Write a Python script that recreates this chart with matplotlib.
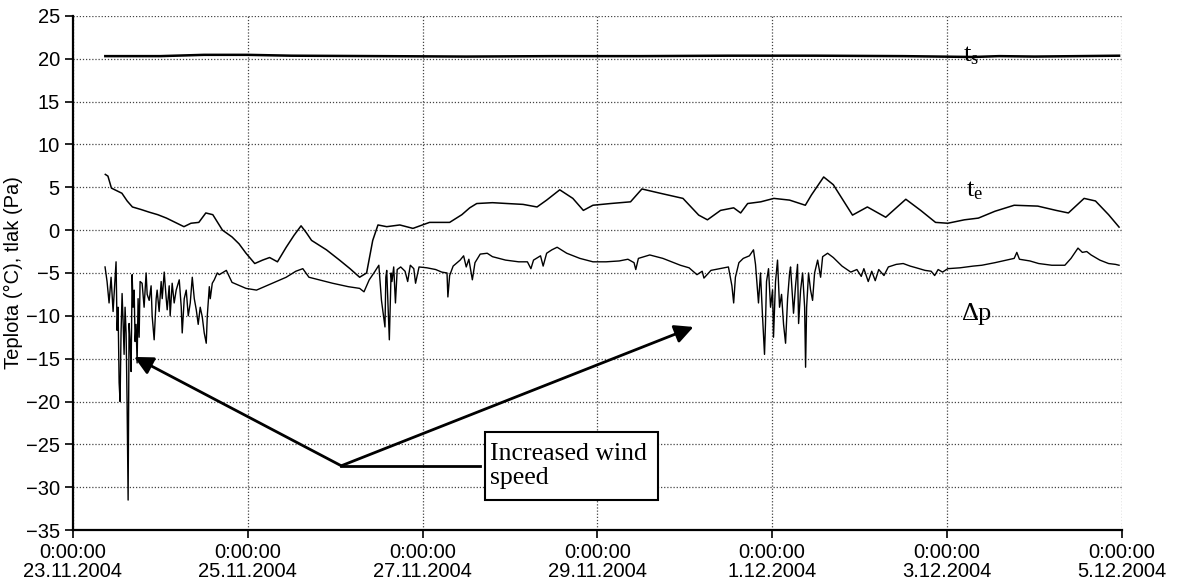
import matplotlib
matplotlib.use("Agg")
import matplotlib.pyplot as plt
from matplotlib.patches import Rectangle

# cas ve dnech od 23.11.2004 0:00:00
tick_dny = [0, 2, 4, 6, 8, 10, 12]
tick_popisky = ["0:00:00\n23.11.2004", "0:00:00\n25.11.2004", "0:00:00\n27.11.2004",
                "0:00:00\n29.11.2004", "0:00:00\n1.12.2004", "0:00:00\n3.12.2004",
                "0:00:00\n5.12.2004"]

# t_s - vnitrni teplota
ts_den = [0.37, 1.0, 1.5, 2.0, 2.5, 3.5, 4.5, 5.5, 6.5, 7.5, 8.5, 9.5, 10.3, 10.6, 11.0, 11.5, 11.97]
ts_hod = [20.3, 20.3, 20.45, 20.45, 20.35, 20.3, 20.25, 20.3, 20.3, 20.35, 20.35, 20.3, 20.2, 20.3,
          20.25, 20.3, 20.35]

# t_e - venkovni teplota
te_den = [0.37, 0.40, 0.44, 0.50, 0.56, 0.62, 0.68, 0.78, 0.87, 0.97, 1.07, 1.17, 1.27, 1.35, 1.44,
          1.52, 1.60, 1.71, 1.82, 1.90, 1.98, 2.08, 2.17, 2.25, 2.34, 2.44, 2.53, 2.61, 2.67, 2.73,
          2.90, 3.05, 3.17, 3.28, 3.36, 3.43, 3.49, 3.59, 3.74, 3.89, 4.08, 4.31, 4.45, 4.54, 4.62,
          4.80, 4.97, 5.15, 5.31, 5.42, 5.57, 5.72, 5.84, 5.95, 6.15, 6.38, 6.51, 6.72, 6.98, 7.16,
          7.26, 7.41, 7.56, 7.64, 7.72, 7.87, 8.02, 8.20, 8.38, 8.45, 8.59, 8.70, 8.92, 9.09, 9.30,
          9.53, 9.70, 9.87, 10.01, 10.20, 10.36, 10.55, 10.77, 11.04, 11.25, 11.39, 11.57, 11.70,
          11.85, 11.97]
te_hod = [6.5, 6.3, 4.9, 4.6, 4.3, 3.4, 2.7, 2.4, 2.1, 1.8, 1.4, 0.9, 0.4, 0.8, 0.9,
          2.0, 1.8, 0.0, -0.8, -1.6, -2.7, -3.9, -3.5, -3.2, -3.7, -2.0, -0.6, 0.5, -0.3, -1.2,
          -2.3, -3.5, -4.5, -5.5, -5.0, -1.2, 0.6, 0.4, 0.6, 0.2, 0.9, 0.9, 1.8, 2.6, 3.1,
          3.2, 3.1, 3.0, 2.7, 3.5, 4.7, 3.7, 2.3, 2.9, 3.1, 3.3, 4.8, 4.3, 3.7, 1.75,
          1.2, 2.3, 2.6, 2.0, 3.1, 3.3, 3.7, 3.5, 2.9, 4.1, 6.2, 5.3, 1.75, 2.7, 1.5,
          3.6, 2.3, 0.9, 0.8, 1.2, 1.4, 2.2, 2.9, 2.8, 2.3, 2.0, 3.7, 3.4,
          1.8, 0.35]

# dp - tlakovy rozdil
dp_den = [0.367, 0.390, 0.413, 0.436, 0.459, 0.493, 0.505, 0.516, 0.528, 0.539, 0.550, 0.562,
          0.573, 0.585, 0.596, 0.608, 0.619, 0.631, 0.642, 0.654, 0.665, 0.677, 0.688, 0.700,
          0.711, 0.722, 0.734, 0.745, 0.757, 0.768, 0.791, 0.814, 0.837, 0.849, 0.872, 0.894,
          0.906, 0.929, 0.952, 0.963, 0.986, 1.009, 1.021, 1.044, 1.067, 1.078, 1.101, 1.112,
          1.135, 1.158, 1.181, 1.216, 1.239, 1.250, 1.273, 1.296, 1.319, 1.342, 1.365, 1.388,
          1.411, 1.433, 1.456, 1.479, 1.502, 1.525, 1.537, 1.560, 1.571, 1.594, 1.617, 1.651,
          1.674, 1.755,
          1.82, 1.98, 2.10, 2.28, 2.44, 2.55, 2.63, 2.70, 2.97, 3.15, 3.28, 3.33, 3.39, 3.45,
          3.50, 3.53, 3.57, 3.58, 3.59, 3.62, 3.64, 3.65, 3.67, 3.69, 3.71, 3.75, 3.80, 3.83,
          3.86, 3.90, 3.92, 3.96, 4.05, 4.15, 4.22, 4.28, 4.29, 4.31, 4.35, 4.43, 4.47, 4.50,
          4.53, 4.57, 4.60, 4.66, 4.74, 4.80, 4.95, 5.10, 5.20, 5.24, 5.27, 5.35, 5.38, 5.42,
          5.48, 5.54, 5.65, 5.80, 5.95, 6.10, 6.25, 6.35, 6.42, 6.44, 6.47, 6.60, 6.75, 6.95,
          7.05, 7.14, 7.20, 7.22, 7.30, 7.40, 7.50, 7.54, 7.56, 7.58, 7.62, 7.67, 7.74,
          7.787, 7.810, 7.844, 7.867, 7.890, 7.913, 7.924, 7.936, 7.959, 7.982, 8.005, 8.016,
          8.039, 8.062, 8.085, 8.108, 8.131, 8.154, 8.177, 8.200, 8.211, 8.234, 8.245, 8.268,
          8.291, 8.303, 8.326, 8.349, 8.372, 8.383, 8.395, 8.417, 8.440, 8.463, 8.486, 8.521,
          8.555, 8.578, 8.635,
          8.70, 8.80, 8.90, 8.97, 9.02, 9.05, 9.10, 9.14, 9.18, 9.22, 9.28, 9.33, 9.42, 9.50,
          9.58, 9.65, 9.75, 9.82, 9.86, 9.90, 9.95, 10.01, 10.15, 10.30, 10.40, 10.55, 10.68,
          10.77, 10.80, 10.83, 10.95, 11.05, 11.20, 11.35, 11.42, 11.50, 11.55, 11.60, 11.65,
          11.75, 11.85, 11.93, 11.97]
dp_hod = [-4.3, -6.0, -8.5, -5.5, -9.5, -3.7, -11.7, -9.0, -17.8, -20.0, -12.0, -7.4,
          -10.5, -14.5, -9.0, -12.0, -20.0, -31.5, -10.9, -13.0, -16.5, -5.2, -9.0, -7.0,
          -13.0, -11.0, -15.5, -8.0, -12.5, -6.0, -6.2, -9.0, -5.0, -7.5, -8.2, -6.5,
          -10.0, -12.8, -8.0, -7.0, -9.5, -6.0, -8.0, -4.9, -8.0, -9.3, -6.5, -10.0,
          -6.2, -8.5, -7.0, -5.8, -9.0, -12.0, -8.0, -7.0, -10.0, -8.5, -5.5, -8.0,
          -9.3, -11.0, -9.0, -10.1, -12.0, -13.2, -10.0, -6.6, -8.0, -6.2, -5.8, -5.0,
          -5.2, -4.7,
          -6.1, -6.8, -7.0, -6.2, -5.5, -4.8, -4.5, -5.5, -6.2, -6.6, -6.8, -7.2, -5.8, -4.9,
          -4.1, -8.2, -11.3, -5.5, -4.7, -12.8, -5.0, -6.0, -4.3, -8.5, -4.6, -4.3, -4.8, -6.0,
          -4.1, -4.5, -6.2, -4.3, -4.4, -4.6, -4.9, -5.0, -7.8, -5.3, -4.2, -3.5, -3.0, -4.3,
          -3.4, -5.8, -3.8, -2.8, -2.7, -3.1, -3.5, -3.7, -3.7, -4.5, -3.5, -3.0, -4.2, -2.7,
          -2.3, -2.0, -2.7, -3.3, -3.7, -3.7, -3.6, -3.4, -3.8, -4.6, -3.3, -2.9, -3.3, -4.1,
          -4.4, -5.2, -4.8, -5.6, -4.7, -4.5, -4.3, -6.5, -8.5, -5.5, -3.8, -3.3, -3.0,
          -2.3, -4.0, -8.5, -5.0, -10.0, -14.5, -11.0, -6.0, -4.5, -9.0, -7.0, -12.5,
          -6.0, -3.5, -9.0, -7.5, -11.0, -13.2, -8.0, -5.0, -4.3, -8.0, -9.7, -6.5,
          -4.0, -10.9, -7.0, -5.0, -9.0, -16.0, -9.0, -5.0, -7.0, -8.2, -5.0, -3.5,
          -5.5, -3.1, -2.7,
          -3.2, -4.2, -4.9, -4.6, -5.4, -4.5, -6.0, -4.8, -5.9, -4.6, -5.3, -4.3, -4.0, -3.9,
          -4.2, -4.4, -4.7, -4.8, -5.3, -4.6, -4.9, -4.5, -4.4, -4.2, -4.1, -3.8, -3.5,
          -3.3, -2.6, -3.4, -3.6, -3.9, -4.1, -4.1, -3.3, -2.1, -2.6, -2.5, -2.9,
          -3.5, -3.9, -4.0, -4.1]

# popisek a sipky (vrchol, konce sipek)
vrchol = (3.07, -27.5)
konce_sipek = [(0.70, -14.8), (7.10, -11.3)]
konec_cary = 4.66
text_popisek = "Increased wind\nspeed"

plt.rcParams['font.family'] = ['Liberation Sans', 'DejaVu Sans']
plt.rcParams['mathtext.fontset'] = 'custom'
plt.rcParams['mathtext.rm'] = 'Liberation Serif'
plt.rcParams['mathtext.it'] = 'Liberation Serif:italic'

fig = plt.figure(figsize=(11.77, 5.87), dpi=100)
ax = fig.add_axes([0.062, 0.097, 0.891, 0.876])

ax.plot(ts_den, ts_hod, color='black', lw=1.8)
ax.plot(te_den, te_hod, color='black', lw=1.1)
ax.plot(dp_den, dp_hod, color='black', lw=1.0)

ax.set_xlim(0, 12)
ax.set_ylim(-35, 25)
ax.set_yticks(range(-35, 26, 5))
ax.set_xticks(tick_dny)
ax.set_xticklabels(tick_popisky, fontsize=14.5, linespacing=1.0)
ax.tick_params(axis='y', labelsize=14.5, length=6, width=1.2, direction='out')
ax.tick_params(axis='x', length=6, width=1.2, direction='out', pad=3)
ax.set_ylabel("Teplota (°C), tlak (Pa)", fontsize=14.5, labelpad=2)

ax.grid(True, color='#444444', linestyle=(0, (1, 1.5)), linewidth=0.9)
for s in ['top', 'right']:
    ax.spines[s].set_visible(False)
for s in ['left', 'bottom']:
    ax.spines[s].set_linewidth(1.6)

# popisky krivek
ax.text(10.18, 20.4, r'$\mathrm{t_s}$', fontsize=19, va='center', ha='left')
ax.text(10.22, 3.9, r'$\mathrm{t_e}$', fontsize=19, va='baseline', ha='left')
ax.text(10.16, -10.5, r'$\mathrm{\Delta p}$', fontsize=19, va='baseline', ha='left')

# sipky
for konec in konce_sipek:
    ax.annotate("", xy=konec, xytext=vrchol,
                arrowprops=dict(arrowstyle='-|>', color='black', lw=2.0,
                                mutation_scale=28, shrinkA=0, shrinkB=0))
ax.plot([vrchol[0], konec_cary], [vrchol[1], vrchol[1]], color='black', lw=2.0)

# ramecek s textem
ax.add_patch(Rectangle((4.72, -31.5), 1.97, 7.9, facecolor='white', edgecolor='black',
                       lw=1.5, zorder=4))
ax.text(4.77, -24.8, text_popisek, fontsize=18.5, family='Liberation Serif',
        va='top', ha='left', linespacing=1.15, zorder=5)

fig.savefig("out.png", dpi=100)
